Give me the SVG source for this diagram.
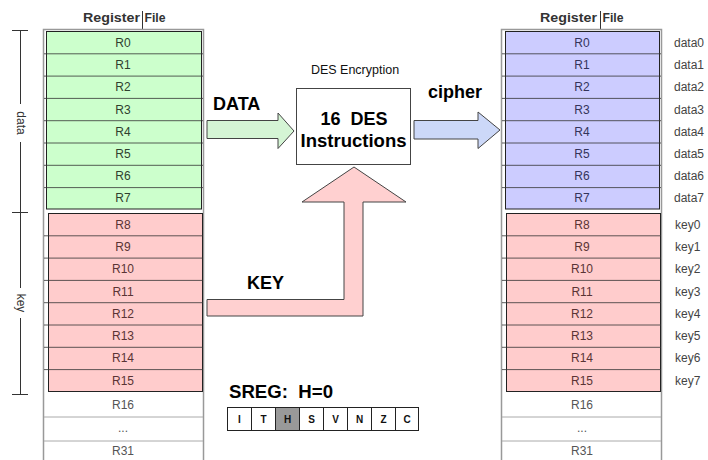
<svg xmlns="http://www.w3.org/2000/svg" width="708" height="460" viewBox="0 0 708 460">
<style>
text{font-family:"Liberation Sans",Arial,sans-serif}
.hdr{font-size:12.5px;font-weight:bold;fill:#333}
.rt{font-size:12px;text-anchor:middle;dominant-baseline:central}
.g{fill:#2f3f2f}.p{fill:#5a3434}.b{fill:#34345a}.w{fill:#555}
.side{font-size:12px;fill:#444;dominant-baseline:central}
.frame{fill:#fff;stroke:#999;stroke-width:1.5}
.blk{stroke:#222;stroke-width:1}
.rl{stroke:#333;stroke-width:0.8}
.wl{stroke:#aaa;stroke-width:1}
.big{font-size:18px;font-weight:bold;fill:#000}
.arr{stroke:#444;stroke-width:1}
.fl{font-size:10px;font-weight:bold;text-anchor:middle;fill:#111}
.fb{stroke:#222;stroke-width:1}
</style>

<g id="left-regfile">
  <text class="hdr" x="83" y="22" textLength="57" lengthAdjust="spacingAndGlyphs">Register</text>
  <text class="hdr" x="144.5" y="22" textLength="21" lengthAdjust="spacingAndGlyphs">File</text>
  <line x1="142.5" y1="11" x2="142.5" y2="30" stroke="#333" stroke-width="1"/>
  <rect class="frame" x="43.5" y="29.5" width="160" height="440"/>
  <rect class="blk" x="46.5" y="31.5" width="155" height="177.5" fill="#ccffcc"/>
  <rect class="blk" x="48.5" y="213.5" width="154" height="178" fill="#ffcccc"/>
  <g class="rl">
    <line x1="44" y1="53.8" x2="203" y2="53.8"/><line x1="44" y1="76.1" x2="203" y2="76.1"/>
    <line x1="44" y1="98.4" x2="203" y2="98.4"/><line x1="44" y1="120.7" x2="203" y2="120.7"/>
    <line x1="44" y1="143" x2="203" y2="143"/><line x1="44" y1="165.3" x2="203" y2="165.3"/>
    <line x1="44" y1="187.6" x2="203" y2="187.6"/>
    <line x1="44" y1="235.8" x2="203" y2="235.8"/><line x1="44" y1="258.1" x2="203" y2="258.1"/>
    <line x1="44" y1="280.4" x2="203" y2="280.4"/><line x1="44" y1="302.7" x2="203" y2="302.7"/>
    <line x1="44" y1="325" x2="203" y2="325"/><line x1="44" y1="347.3" x2="203" y2="347.3"/>
    <line x1="44" y1="369.6" x2="203" y2="369.6"/>
  </g>
  <g class="wl"><line x1="44" y1="417" x2="203" y2="417"/><line x1="44" y1="441" x2="203" y2="441"/></g>
  <text class="rt g" x="123" y="42.6">R0</text><text class="rt g" x="123" y="64.9">R1</text>
  <text class="rt g" x="123" y="87.2">R2</text><text class="rt g" x="123" y="109.5">R3</text>
  <text class="rt g" x="123" y="131.8">R4</text><text class="rt g" x="123" y="154.1">R5</text>
  <text class="rt g" x="123" y="176.4">R6</text><text class="rt g" x="123" y="198.3">R7</text>
  <text class="rt p" x="123" y="224.6">R8</text><text class="rt p" x="123" y="246.9">R9</text>
  <text class="rt p" x="123" y="269.2">R10</text><text class="rt p" x="123" y="291.5">R11</text>
  <text class="rt p" x="123" y="313.8">R12</text><text class="rt p" x="123" y="336.1">R13</text>
  <text class="rt p" x="123" y="358.4">R14</text><text class="rt p" x="123" y="380.7">R15</text>
  <text class="rt w" x="123" y="405">R16</text>
  <text class="rt w" x="123" y="428" font-size="8">...</text>
  <text class="rt w" x="123" y="451">R31</text>
</g>

<g id="bracket">
  <g stroke="#333" stroke-width="1">
    <line x1="20.5" y1="30" x2="20.5" y2="104"/><line x1="20.5" y1="142" x2="20.5" y2="288"/>
    <line x1="20.5" y1="318" x2="20.5" y2="394"/>
    <line x1="12" y1="30.5" x2="28" y2="30.5"/><line x1="12" y1="212.5" x2="28" y2="212.5"/>
    <line x1="12" y1="394.5" x2="28" y2="394.5"/>
  </g>
  <text transform="translate(20.5,123) rotate(90)" font-size="12" fill="#333" text-anchor="middle" dominant-baseline="central">data</text>
  <text transform="translate(20.5,303) rotate(90)" font-size="12" fill="#333" text-anchor="middle" dominant-baseline="central">key</text>
</g>

<g id="des-box">
  <text x="355" y="74" font-size="12.5" fill="#111" text-anchor="middle">DES Encryption</text>
  <rect x="296.5" y="88.5" width="114" height="76" fill="#fff" stroke="#444" stroke-width="1"/>
  <text class="big" x="354" y="125" text-anchor="middle">16&#160; DES</text>
  <text class="big" x="353.5" y="147" text-anchor="middle" textLength="106" lengthAdjust="spacingAndGlyphs">Instructions</text>
</g>

<g id="connectors">
  <polygon class="arr" fill="#d5f5d5" points="207,120.5 278,120.5 278,113 294,131 278,148.5 278,138.5 207,138.5"/>
  <polygon class="arr" fill="#ccd8f8" points="414,120.5 478,120.5 478,112 500,130 478,148.5 478,139 414,139"/>
  <polygon class="arr" fill="#ffd0d0" points="207,299.5 344,299.5 344,202 302,202 354,167 406,202 363,202 363,316 207,316"/>
  <text class="big" x="213" y="110">DATA</text>
  <text class="big" x="428" y="98">cipher</text>
  <text class="big" x="247" y="289">KEY</text>
</g>

<g id="sreg">
  <text class="big" x="229" y="398" font-size="17" textLength="104" lengthAdjust="spacingAndGlyphs">SREG:&#160; H=0</text>
  <rect class="fb" x="227.5" y="407.5" width="24" height="23" fill="#fff"/>
  <rect class="fb" x="251.5" y="407.5" width="24" height="23" fill="#fff"/>
  <rect class="fb" x="275.5" y="407.5" width="24" height="23" fill="#999"/>
  <rect class="fb" x="299.5" y="407.5" width="24" height="23" fill="#fff"/>
  <rect class="fb" x="323.5" y="407.5" width="24" height="23" fill="#fff"/>
  <rect class="fb" x="347.5" y="407.5" width="24" height="23" fill="#fff"/>
  <rect class="fb" x="371.5" y="407.5" width="24" height="23" fill="#fff"/>
  <rect class="fb" x="395.5" y="407.5" width="23" height="23" fill="#fff"/>
  <text class="fl" x="239.5" y="423">I</text><text class="fl" x="263.5" y="423">T</text>
  <text class="fl" x="287.5" y="423">H</text><text class="fl" x="311.5" y="423">S</text>
  <text class="fl" x="335.5" y="423">V</text><text class="fl" x="359.5" y="423">N</text>
  <text class="fl" x="383.5" y="423">Z</text><text class="fl" x="407" y="423">C</text>
</g>

<g id="right-regfile">
  <text class="hdr" x="540" y="22" textLength="57" lengthAdjust="spacingAndGlyphs">Register</text>
  <text class="hdr" x="602.5" y="22" textLength="21" lengthAdjust="spacingAndGlyphs">File</text>
  <line x1="600.5" y1="11" x2="600.5" y2="30" stroke="#333" stroke-width="1"/>
  <rect class="frame" x="501.5" y="29.5" width="160" height="440"/>
  <rect class="blk" x="505.5" y="31.5" width="154" height="177.5" fill="#ccccff"/>
  <rect class="blk" x="506.5" y="213.5" width="154" height="178" fill="#ffcccc"/>
  <g class="rl">
    <line x1="502" y1="53.8" x2="661" y2="53.8"/><line x1="502" y1="76.1" x2="661" y2="76.1"/>
    <line x1="502" y1="98.4" x2="661" y2="98.4"/><line x1="502" y1="120.7" x2="661" y2="120.7"/>
    <line x1="502" y1="143" x2="661" y2="143"/><line x1="502" y1="165.3" x2="661" y2="165.3"/>
    <line x1="502" y1="187.6" x2="661" y2="187.6"/>
    <line x1="502" y1="235.8" x2="661" y2="235.8"/><line x1="502" y1="258.1" x2="661" y2="258.1"/>
    <line x1="502" y1="280.4" x2="661" y2="280.4"/><line x1="502" y1="302.7" x2="661" y2="302.7"/>
    <line x1="502" y1="325" x2="661" y2="325"/><line x1="502" y1="347.3" x2="661" y2="347.3"/>
    <line x1="502" y1="369.6" x2="661" y2="369.6"/>
  </g>
  <g class="wl"><line x1="502" y1="417" x2="661" y2="417"/><line x1="502" y1="441" x2="661" y2="441"/></g>
  <text class="rt b" x="582" y="42.6">R0</text><text class="rt b" x="582" y="64.9">R1</text>
  <text class="rt b" x="582" y="87.2">R2</text><text class="rt b" x="582" y="109.5">R3</text>
  <text class="rt b" x="582" y="131.8">R4</text><text class="rt b" x="582" y="154.1">R5</text>
  <text class="rt b" x="582" y="176.4">R6</text><text class="rt b" x="582" y="198.3">R7</text>
  <text class="rt p" x="582" y="224.6">R8</text><text class="rt p" x="582" y="246.9">R9</text>
  <text class="rt p" x="582" y="269.2">R10</text><text class="rt p" x="582" y="291.5">R11</text>
  <text class="rt p" x="582" y="313.8">R12</text><text class="rt p" x="582" y="336.1">R13</text>
  <text class="rt p" x="582" y="358.4">R14</text><text class="rt p" x="582" y="380.7">R15</text>
  <text class="rt w" x="582" y="405">R16</text>
  <text class="rt w" x="582" y="428" font-size="8">...</text>
  <text class="rt w" x="582" y="451">R31</text>
  <text class="side" x="674" y="42.6">data0</text><text class="side" x="674" y="64.9">data1</text>
  <text class="side" x="674" y="87.2">data2</text><text class="side" x="674" y="109.5">data3</text>
  <text class="side" x="674" y="131.8">data4</text><text class="side" x="674" y="154.1">data5</text>
  <text class="side" x="674" y="176.4">data6</text><text class="side" x="674" y="198.3">data7</text>
  <text class="side" x="675" y="224.6">key0</text><text class="side" x="675" y="246.9">key1</text>
  <text class="side" x="675" y="269.2">key2</text><text class="side" x="675" y="291.5">key3</text>
  <text class="side" x="675" y="313.8">key4</text><text class="side" x="675" y="336.1">key5</text>
  <text class="side" x="675" y="358.4">key6</text><text class="side" x="675" y="380.7">key7</text>
</g>
</svg>
